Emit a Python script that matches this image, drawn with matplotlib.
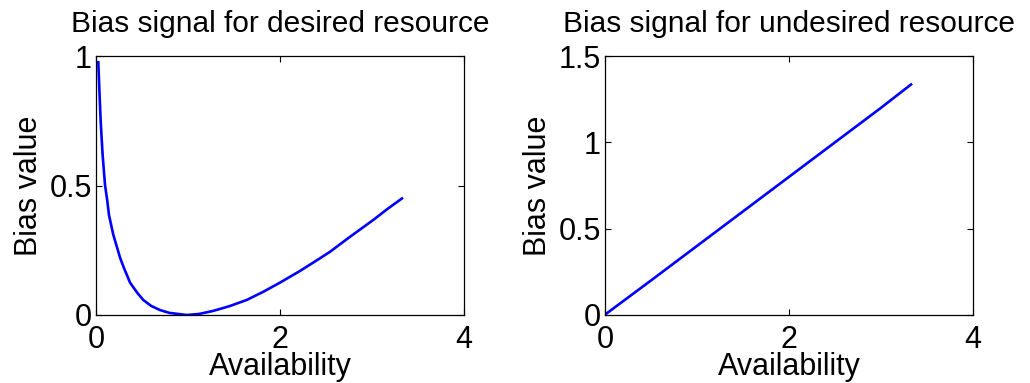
import matplotlib
matplotlib.use("Agg")
import matplotlib.pyplot as plt

plt.rcParams['font.family'] = ['Liberation Sans', 'DejaVu Sans']

# desired resource: bias vs availability
avail_des = [0.025, 0.036, 0.051, 0.072, 0.098, 0.123, 0.141, 0.188, 0.261, 0.30,
             0.37, 0.45, 0.514, 0.60, 0.696, 0.80, 0.986, 1.12, 1.275, 1.45,
             1.638, 1.82, 2.0, 2.217, 2.435, 2.543, 2.761, 3.014, 3.17, 3.326]
bias_des = [0.976, 0.875, 0.746, 0.618, 0.502, 0.44, 0.386, 0.31, 0.222, 0.185,
            0.125, 0.085, 0.058, 0.035, 0.019, 0.008, 0.0, 0.004, 0.016, 0.034,
            0.058, 0.09, 0.125, 0.17, 0.219, 0.244, 0.302, 0.367, 0.41, 0.45]

# undesired resource
avail_und = [0.02, 0.5, 1.0, 1.5, 2.0, 2.5, 3.0, 3.326]
bias_und = [0.01, 0.2, 0.4, 0.6, 0.8, 1.0, 1.2, 1.335]

titles = ['Bias signal for desired resource', 'Bias signal for undesired resource']
yticks = [[0, 0.5, 1], [0, 0.5, 1, 1.5]]
yticklabels = [['0', '0.5', '1'], ['0', '0.5', '1', '1.5']]
ylims = [(0, 1), (0, 1.5)]

fig = plt.figure(figsize=(10.3, 3.83), dpi=100)
ax1 = fig.add_axes([96 / 1030, 68 / 383, 368 / 1030, 259 / 383])
ax2 = fig.add_axes([605 / 1030, 68 / 383, 368 / 1030, 259 / 383])

ax1.plot(avail_des, bias_des, color='#0000ff', lw=1.9)
ax2.plot(avail_und, bias_und, color='#0000ff', lw=1.9)

for i, ax in enumerate([ax1, ax2]):
    ax.set_xlim(0, 4)
    ax.set_ylim(*ylims[i])
    ax.set_xticks([0, 2, 4])
    ax.set_xticklabels(['0', '2', '4'])
    ax.set_yticks(yticks[i])
    ax.set_yticklabels(yticklabels[i])
    ax.tick_params(direction='in', length=4, width=0.8, top=True, right=True,
                   labelsize=22, colors='black')
    ax.tick_params(axis='x', pad=7)
    ax.tick_params(axis='y', pad=3)
    for s in ax.spines.values():
        s.set_linewidth(0.9)
    ax.set_title(titles[i], fontsize=21.5, pad=17)
    ax.set_xlabel('Availability', fontsize=22, labelpad=-2)
    ax.set_ylabel('Bias value', fontsize=22, labelpad=4)

fig.savefig('out.png', dpi=100)
